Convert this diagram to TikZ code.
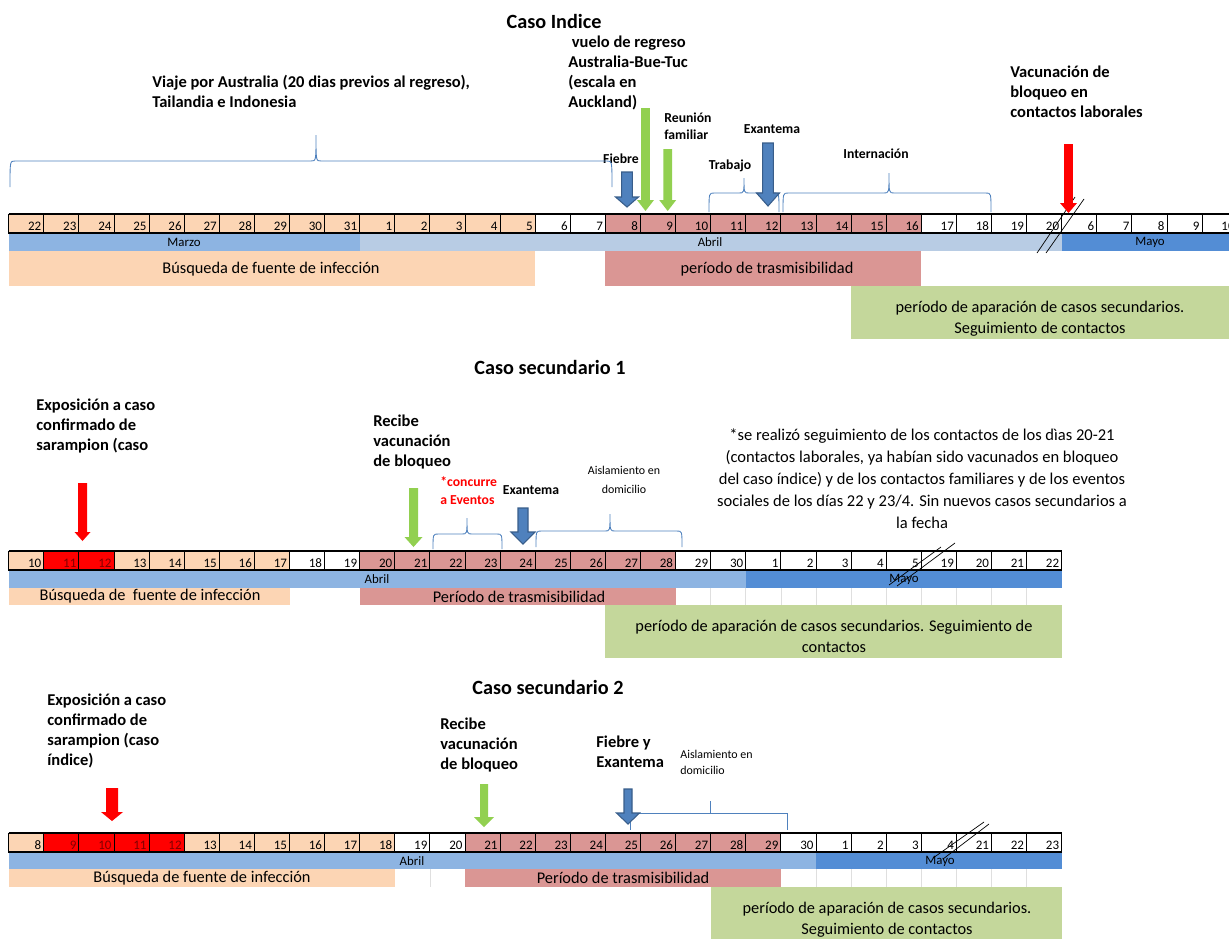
\documentclass[tikz,border=0pt]{standalone}
\usepackage{fontspec}
\setmainfont{Carlito}
\usepackage{tikz}

\definecolor{peach}{HTML}{FCD5B4}
\definecolor{pinkc}{HTML}{DA9694}
\definecolor{redc}{HTML}{FF0000}
\definecolor{darkred}{HTML}{800000}
\definecolor{marzo}{HTML}{8DB4E2}
\definecolor{abrilc}{HTML}{B8CCE4}
\definecolor{mayo}{HTML}{538DD5}
\definecolor{greenbar}{HTML}{C4D79B}
\definecolor{greenarr}{HTML}{92D050}
\definecolor{bluearr}{HTML}{4F81BD}
\definecolor{blueline}{HTML}{385D8A}

\tikzset{
	daybox/.style={draw=black, line width=0.5pt},
	daynum/.style={anchor=south east, inner sep=1.2pt, font=\fontsize{7.4}{8}\selectfont},
	monthtxt/.style={inner sep=0pt, font=\fontsize{7.3}{8}\selectfont},
	bartxt/.style={inner sep=0pt, align=center, font=\fontsize{9.3}{11.9}\selectfont},
	biglabel/.style={anchor=north west, inner sep=0pt, align=left, font=\bfseries\fontsize{9.4}{11.3}\selectfont},
	smalllabel/.style={inner sep=0pt, align=left, font=\bfseries\fontsize{7.8}{9.6}\selectfont},
	tinylabel/.style={inner sep=0pt, font=\fontsize{6.8}{9}\selectfont},
	casetitle/.style={inner sep=0pt, font=\bfseries\fontsize{11.5}{13}\selectfont},
	curly/.style={draw=bluearr, line width=0.5pt},
	gridl/.style={draw=gray!25, line width=0.4pt},
	breakl/.style={draw=black, line width=0.4pt},
	greenblock/.style={fill=greenarr, draw=none},
	redblock/.style={fill=redc, draw=none},
	blueblock/.style={fill=bluearr, draw=blueline, line width=0.6pt},
}

% day cell: [text colour]{top}{index}{label}{fill}{name}
\newcommand{\daycell}[6][black]{%
	\draw[daybox,fill=#5] (8.7+35.1*#3,#2) rectangle ++(35.1,19) node[daynum,text=#1] (#6) {#4};}
% block arrow: style, x, top, tip, half shaft, half head, head length
\newcommand{\blockarrow}[7]{%
	\filldraw[#1] (#2-#5,#3) -- (#2+#5,#3) -- (#2+#5,#4-#7) -- (#2+#6,#4-#7) -- (#2,#4) -- (#2-#6,#4-#7) -- (#2-#5,#4-#7) -- cycle;}
% curly bracket: x left, x right, x tip, y ends, y middle, y tip
\newcommand{\curlybr}[6]{%
	\draw[curly] (#1,#4) .. controls (#1,#5) and (#1,#5) .. (#1+5,#5) -- (#3-5,#5) .. controls (#3,#5) and (#3,#5) .. (#3,#6)
		.. controls (#3,#5) and (#3,#5) .. (#3+5,#5) -- (#2-5,#5) .. controls (#2,#5) and (#2,#5) .. (#2,#4);}

\begin{document}
\begin{tikzpicture}[x=0.02cm,y=-0.02cm]
	\useasboundingbox (0,0) rectangle (1229,938);

	%%% Caso Indice
	\node[casetitle] (t1) at (554,21) {Caso Indice};
	\node[biglabel] (vuelo) at (568,36) {\hspace{2pt}vuelo de regreso\\Australia-Bue-Tuc\\(escala en\\Auckland)};
	\node[biglabel] (viaje) at (152,75) {Viaje por Australia (20 dias previos al regreso),\\Tailandia e Indonesia};
	\node[biglabel] (vacuna1) at (1010,66) {Vacunación de\\bloqueo en\\contactos laborales};
	\node[smalllabel,anchor=north west] (reunion) at (664,113) {Reunión\\familiar};
	\node[smalllabel] (exant1) at (772,129) {Exantema};
	\node[smalllabel] (fiebre1) at (621,159) {Fiebre};
	\node[smalllabel] (trabajo) at (730,166) {Trabajo};
	\node[smalllabel] (intern) at (876,154) {Internación};

	\curlybr{10}{612}{316}{187}{161}{135}
	\curlybr{709}{779}{744}{212}{193}{178}
	\curlybr{783}{991}{889}{212}{193}{173}

	% month bars and periods
	\path[fill=marzo] (8.7,233) rectangle (359.7,251);
	\path[fill=abrilc] (359.7,233) rectangle (1061.7,251);
	\path[fill=mayo] (1061.7,233) rectangle (1240,251);
	\node[monthtxt] (marzo1) at (184,242) {Marzo};
	\node[monthtxt] (abril1) at (710,242) {Abril};
	\node[monthtxt] (mayo1) at (1150,242) {Mayo};
	\path[fill=peach] (8.7,251) rectangle (535.2,286);
	\node[bartxt] (busq1) at (271,269) {Búsqueda de fuente de infección};
	\path[fill=pinkc] (605.4,251) rectangle (921.3,286);
	\node[bartxt] (trasm1) at (767,269) {período de trasmisibilidad};
	\path[fill=greenbar] (851.1,286) rectangle (1240,339);
	\node[bartxt] (sec1) at (1040,318.5) {período de aparación de casos secundarios.\\Seguimiento de contactos};

	% days
	\foreach \d [count=\i from 0] in {22,...,31} {\daycell{214}{\i}{\d}{peach}{ra\i}}
	\foreach \d [count=\i from 10] in {1,...,5} {\daycell{214}{\i}{\d}{peach}{ra\i}}
	\foreach \d [count=\i from 15] in {6,7} {\daycell{214}{\i}{\d}{white}{ra\i}}
	\foreach \d [count=\i from 17] in {8,...,16} {\daycell{214}{\i}{\d}{pinkc}{ra\i}}
	\foreach \d [count=\i from 26] in {17,...,20} {\daycell{214}{\i}{\d}{white}{ra\i}}
	\foreach \d [count=\i from 30] in {6,...,10} {\daycell{214}{\i}{\d}{white}{ra\i}}
	\draw[line width=1.2pt] (8.7,214) -- (1240,214);
	\draw[line width=0.9pt] (8.7,233) -- (1240,233);

	\draw[breakl] (1037,253) -- (1075,197);
	\draw[breakl] (1046,253) -- (1084,199);

	\blockarrow{greenblock}{645.5}{108}{211}{4.3}{8.5}{11}
	\blockarrow{greenblock}{667.7}{149}{211}{4.3}{8.5}{11}
	\blockarrow{blueblock}{627}{172}{207}{5.3}{11.5}{10}
	\blockarrow{blueblock}{768}{143}{206}{5.3}{11.5}{13}
	\blockarrow{redblock}{1068.5}{144}{213}{4.3}{8.5}{10}

	%%% Caso secundario 1
	\node[casetitle] (t2) at (550,367) {Caso secundario 1};
	\node[biglabel] (expo2) at (36,399) {Exposición a caso\\confirmado de\\sarampion (caso};
	\node[biglabel] (recibe2) at (373,415) {Recibe\\vacunación\\de bloqueo};
	\node[smalllabel,anchor=north west,text=redc,font=\bfseries\fontsize{7.8}{10.2}\selectfont] (eventos) at (440,476) {*concurre\\a Eventos};
	\node[smalllabel] (exant2) at (531,490) {Exantema};
	\node[tinylabel,align=center,font=\fontsize{6.8}{10.5}\selectfont] (aisla2) at (624,480) {Aislamiento en\\domicilio};
	\node[bartxt,font=\fontsize{9.4}{12.5}\selectfont] (nota) at (922,479) {*se realizó seguimiento de los contactos de los dìas 20-21\\(contactos laborales, ya habían sido vacunados en bloqueo\\del caso índice) y de los contactos familiares y de los eventos\\sociales de los días 22 y 23/4. Sin nuevos casos secundarios a\\la fecha};

	\curlybr{433}{502}{467}{549}{534}{518}
	\curlybr{536}{682}{610}{547}{531}{514}

	\path[fill=marzo] (8.7,570) rectangle (745.8,588);
	\path[fill=mayo] (745.8,570) rectangle (1061.7,588);
	\node[monthtxt] (abril2) at (377,579) {Abril};
	\node[monthtxt] (mayo2) at (904,579) {Mayo};
	\foreach \k in {20,...,29} {\draw[gridl] (8.7+35.1*\k,588) -- (8.7+35.1*\k,605);}
	\path[fill=peach] (8.7,588) rectangle (289.5,605);
	\node[bartxt] (busq2) at (150,596.5) {Búsqueda de \ fuente de infección};
	\path[fill=pinkc] (359.7,588) rectangle (675.6,605);
	\node[bartxt] (trasm2) at (519,596.5) {Período de trasmisibilidad};
	\path[fill=greenbar] (605.4,605) rectangle (1061.7,658);
	\node[bartxt] (sec2) at (834,636.5) {período de aparación de casos secundarios. Seguimiento de\\contactos};

	\daycell{551}{0}{10}{peach}{rb0}
	\foreach \d [count=\i from 1] in {11,12} {\daycell[darkred]{551}{\i}{\d}{redc}{rb\i}}
	\foreach \d [count=\i from 3] in {13,...,17} {\daycell{551}{\i}{\d}{peach}{rb\i}}
	\foreach \d [count=\i from 8] in {18,19} {\daycell{551}{\i}{\d}{white}{rb\i}}
	\foreach \d [count=\i from 10] in {20,...,28} {\daycell{551}{\i}{\d}{pinkc}{rb\i}}
	\foreach \d [count=\i from 19] in {29,30} {\daycell{551}{\i}{\d}{white}{rb\i}}
	\foreach \d [count=\i from 21] in {1,...,5} {\daycell{551}{\i}{\d}{white}{rb\i}}
	\foreach \d [count=\i from 26] in {19,...,22} {\daycell{551}{\i}{\d}{white}{rb\i}}
	\draw[line width=1.2pt] (8.7,551) -- (1061.7,551);
	\draw[line width=0.9pt] (8.7,570) -- (1061.7,570);

	\draw[breakl] (889,585) -- (941,547);
	\draw[breakl] (897,586) -- (955,543);

	\blockarrow{redblock}{82.5}{483}{541}{4.5}{8}{9}
	\blockarrow{greenblock}{413.5}{488}{547}{4.5}{9}{10}
	\blockarrow{blueblock}{523}{508}{544}{5}{12}{12}

	%%% Caso secundario 2
	\node[casetitle] (t3) at (548,687) {Caso secundario 2};
	\node[biglabel] (expo3) at (47,694) {Exposición a caso\\confirmado de\\sarampion (caso\\índice)};
	\node[biglabel] (recibe3) at (440,718) {Recibe\\vacunación\\de bloqueo};
	\node[biglabel] (fiebre3) at (596,736) {Fiebre y\\Exantema};
	\node[tinylabel,anchor=north west,align=left] (aisla3) at (680,750) {Aislamiento en\\domicilio};

	\draw[curly] (630,830) -- (630,813) -- (787,813) -- (787,830);
	\draw[curly] (710,813) -- (710,801);

	\path[fill=marzo] (8.7,852) rectangle (816,869);
	\path[fill=mayo] (816,852) rectangle (1061.7,869);
	\node[monthtxt] (abril3) at (412,861) {Abril};
	\node[monthtxt] (mayo3) at (940,861) {Mayo};
	\draw[gridl] (429.9,869) -- (429.9,887);
	\foreach \k in {23,...,29} {\draw[gridl] (8.7+35.1*\k,869) -- (8.7+35.1*\k,887);}
	\path[fill=peach] (8.7,869) rectangle (394.8,887);
	\node[bartxt] (busq3) at (202,878) {Búsqueda de fuente de infección};
	\path[fill=pinkc] (465,869) rectangle (781,887);
	\node[bartxt] (trasm3) at (623,878) {Período de trasmisibilidad};
	\path[fill=greenbar] (710.7,887) rectangle (1061.7,945);
	\node[bartxt] (sec3) at (887,919.5) {período de aparación de casos secundarios.\\Seguimiento de contactos};

	\daycell{833}{0}{8}{peach}{rc0}
	\foreach \d [count=\i from 1] in {9,...,12} {\daycell[darkred]{833}{\i}{\d}{redc}{rc\i}}
	\foreach \d [count=\i from 5] in {13,...,18} {\daycell{833}{\i}{\d}{peach}{rc\i}}
	\foreach \d [count=\i from 11] in {19,20} {\daycell{833}{\i}{\d}{white}{rc\i}}
	\foreach \d [count=\i from 13] in {21,...,29} {\daycell{833}{\i}{\d}{pinkc}{rc\i}}
	\daycell{833}{22}{30}{white}{rc22}
	\foreach \d [count=\i from 23] in {1,...,4} {\daycell{833}{\i}{\d}{white}{rc\i}}
	\foreach \d [count=\i from 27] in {21,22,23} {\daycell{833}{\i}{\d}{white}{rc\i}}
	\draw[line width=1.2pt] (8.7,833) -- (1061.7,833);
	\draw[line width=0.9pt] (8.7,852) -- (1061.7,852);

	\draw[breakl] (933,858) -- (984,822);
	\draw[breakl] (943,859) -- (989,824);

	\blockarrow{redblock}{112}{788}{821}{6}{11}{9}
	\blockarrow{greenblock}{484}{784}{827}{4}{10}{10}
	\blockarrow{blueblock}{628}{789}{824}{4}{11.5}{11}
\end{tikzpicture}
\end{document}
